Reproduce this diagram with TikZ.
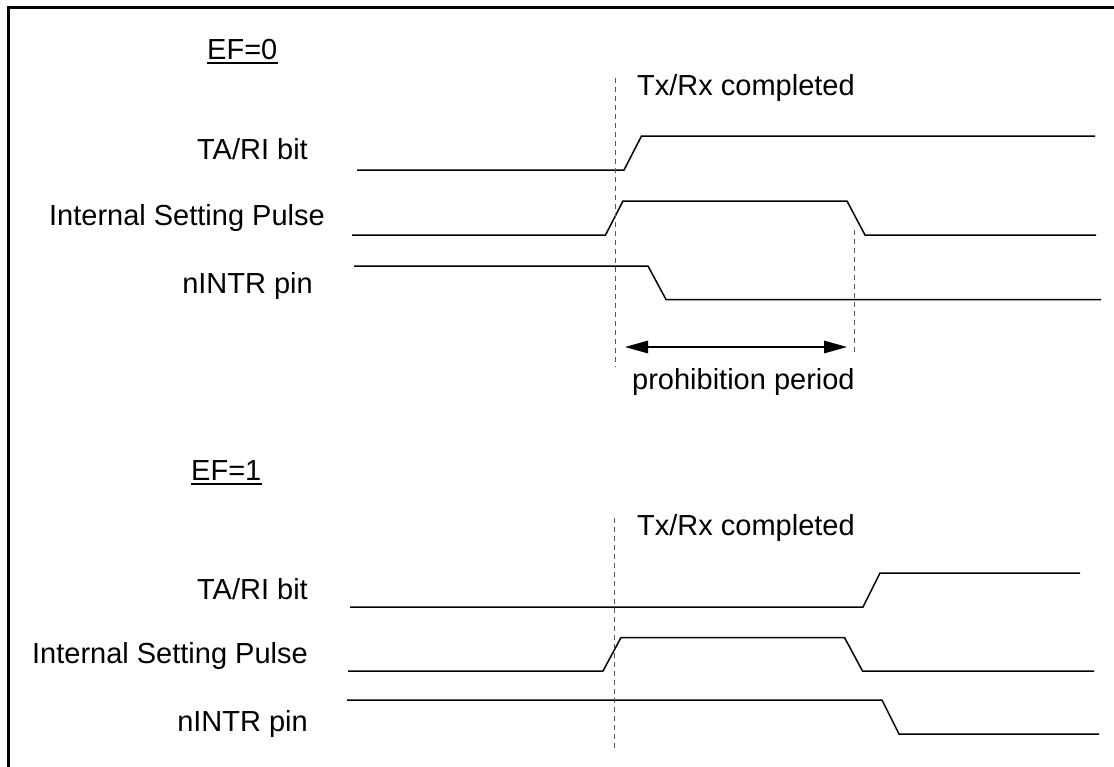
\documentclass[tikz,border=0pt]{standalone}
\usepackage{fontspec}
\setmainfont{Liberation Sans}
\usetikzlibrary{arrows.meta}

\tikzset{
  lbl/.style={inner sep=0pt, font=\fontsize{29}{34}\selectfont},
  wave/.style={line width=1.5pt, line join=miter},
  mark line/.style={line width=0.9pt, gray!70!black, dash pattern=on 5pt off 4pt},
  period/.style={line width=1.5pt, {Triangle[length=23pt,width=12.5pt]}-{Triangle[length=23pt,width=12.5pt]}}
}

\begin{document}
\begin{tikzpicture}[x=1pt, y=-1pt]
\useasboundingbox (0,0) rectangle (1114,766);
\draw[line width=2.7pt] (8.5,7.8) rectangle (1130,790);

\node[lbl, anchor=base west] (ef0) at (207,59) {EF=0};
\draw[line width=2.2pt] ([yshift=-4pt]ef0.base west) -- ([yshift=-4pt]ef0.base east);
\node[lbl, anchor=base east] (ta0) at (308,159) {TA/RI bit};
\node[lbl, anchor=base east] (isp0) at (325,225) {Internal Setting Pulse};
\node[lbl, anchor=base east] (int0) at (313,293) {nINTR pin};
\node[lbl, anchor=base west] (done0) at (637,95) {Tx/Rx completed};
\node[lbl, anchor=base west] (prh) at (632,389) {prohibition period};

\draw[wave] (357,170) -- (624,170) -- (641.5,136) -- (1095,136);
\draw[wave] (352,235) -- (605.5,235) -- (623,201) -- (847,201) -- (865,235) -- (1096,235);
\draw[wave] (354,266) -- (648,266) -- (666,299.5) -- (1101,299.5);
\draw[mark line] (615,78) -- (615,367);
\draw[mark line] (854,230) -- (854,355);
\coordinate (pa) at (625,347);
\coordinate (pb) at (847,347);
\draw[period] (pa) -- (pb);

\node[lbl, anchor=base west] (ef1) at (191,480) {EF=1};
\draw[line width=2.2pt] ([yshift=-4pt]ef1.base west) -- ([yshift=-4pt]ef1.base east);
\node[lbl, anchor=base east] (ta1) at (308,599) {TA/RI bit};
\node[lbl, anchor=base east] (isp1) at (308,663) {Internal Setting Pulse};
\node[lbl, anchor=base east] (int1) at (308,731) {nINTR pin};
\node[lbl, anchor=base west] (done1) at (637,535) {Tx/Rx completed};

\draw[wave] (350,607) -- (863,607) -- (880,573) -- (1080,573);
\draw[wave] (348,671) -- (603,671) -- (621,637.5) -- (844.5,637.5) -- (862.5,671) -- (1094,671);
\draw[wave] (347,700) -- (882,700) -- (899,734) -- (1099,734);
\draw[mark line] (614,518) -- (614,748);
\end{tikzpicture}
\end{document}
